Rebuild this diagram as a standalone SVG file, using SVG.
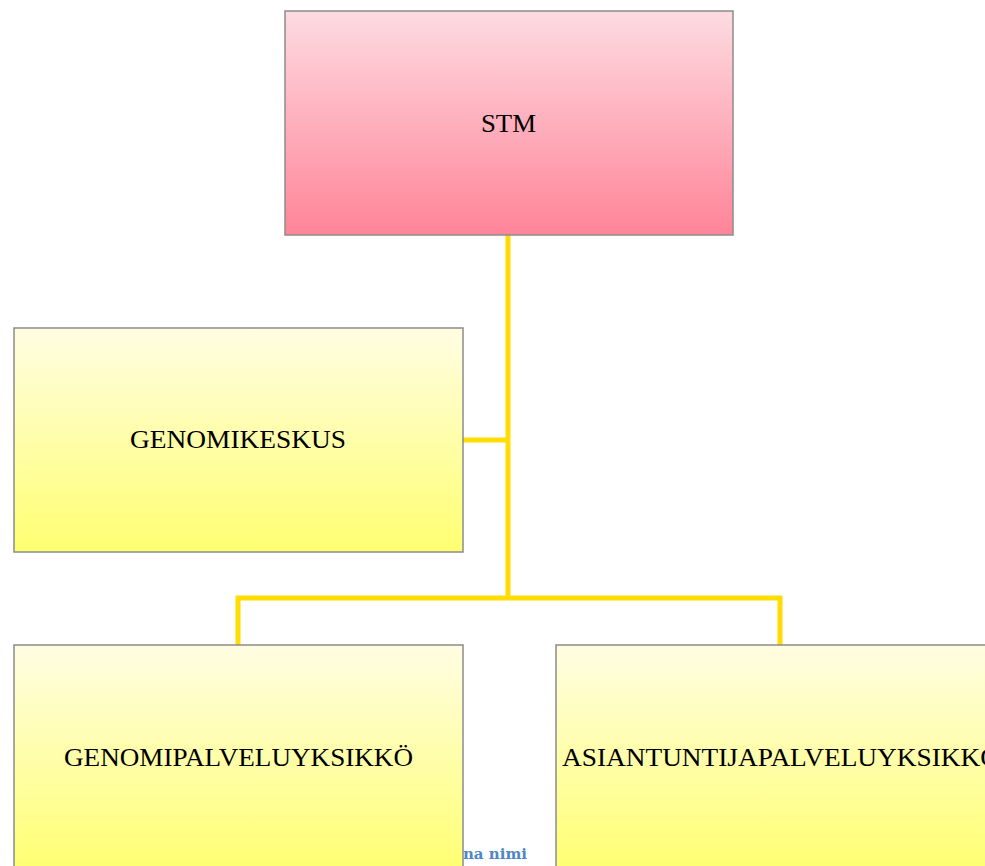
<svg xmlns="http://www.w3.org/2000/svg" width="985" height="866" viewBox="0 0 985 866">
<defs>
<linearGradient id="pink" x1="0" y1="0" x2="0" y2="1">
<stop offset="0" stop-color="#fddbe1"/>
<stop offset="1" stop-color="#ff8498"/>
</linearGradient>
<linearGradient id="yellow" x1="0" y1="0" x2="0" y2="1">
<stop offset="0" stop-color="#fffde2"/>
<stop offset="1" stop-color="#ffff72"/>
</linearGradient>
</defs>
<style>
.box{stroke:#8c8c8c;stroke-width:1.5}
.lbl{font-family:"Liberation Serif","DejaVu Serif",serif;font-size:26px;fill:#000}
.conn{fill:none;stroke:#ffdd00;stroke-width:5;stroke-linejoin:miter}
.cap{font-family:"DejaVu Serif","Liberation Serif",serif;font-weight:bold;font-size:15px;fill:#4f86c6}
</style>
<text class="cap" x="527" y="859" text-anchor="end">na nimi</text>
<g id="connectors">
<path class="conn" d="M508,235 V598"/>
<path class="conn" d="M463,440 H508"/>
<path class="conn" d="M238,645 V598 H780 V645"/>
</g>
<g id="stm">
<rect class="box" x="285" y="11" width="448" height="224" fill="url(#pink)"/>
<text class="lbl" x="508.5" y="132" text-anchor="middle" textLength="55" lengthAdjust="spacingAndGlyphs">STM</text>
</g>
<g id="genomikeskus">
<rect class="box" x="14" y="328" width="449" height="224" fill="url(#yellow)"/>
<text class="lbl" x="238" y="448" text-anchor="middle" textLength="216" lengthAdjust="spacingAndGlyphs">GENOMIKESKUS</text>
</g>
<g id="genomipalveluyksikko">
<rect class="box" x="14" y="645" width="449" height="224" fill="url(#yellow)"/>
<text class="lbl" x="238.5" y="766" text-anchor="middle" textLength="349" lengthAdjust="spacingAndGlyphs">GENOMIPALVELUYKSIKKÖ</text>
</g>
<g id="asiantuntijapalveluyksikko">
<rect class="box" x="556" y="645" width="449" height="224" fill="url(#yellow)"/>
<text class="lbl" x="562" y="766" textLength="438" lengthAdjust="spacingAndGlyphs">ASIANTUNTIJAPALVELUYKSIKKÖ</text>
</g>
</svg>
